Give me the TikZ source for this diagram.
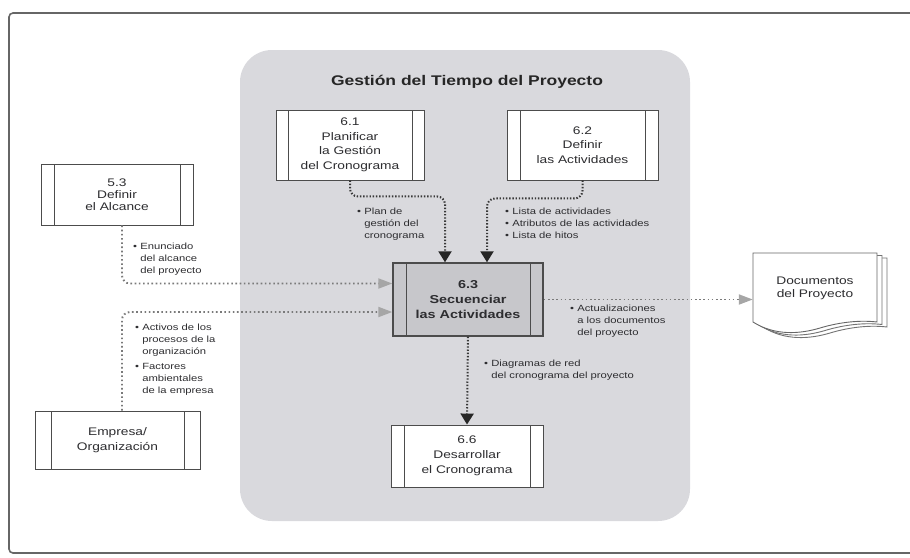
\documentclass[tikz,border=0pt]{standalone}
\usepackage{fontspec}
\setmainfont{Liberation Sans}[FakeStretch=1.25]
\usetikzlibrary{arrows.meta}
\definecolor{panel}{RGB}{217,217,221}
\definecolor{hub}{RGB}{199,199,203}
\definecolor{ink}{RGB}{45,45,48}
\newcommand\lblind{\hphantom{\textbullet\ }}

\begin{document}
\begin{tikzpicture}[x=1pt,y=-1pt,
  strip/.code={\def\procstrip{#1}}, strip=13pt,
  procbox/.style={draw=black!70, line width=0.9pt, fill=white, inner sep=0pt,
    align=center, text=ink, font=\fontsize{11}{14.5}\selectfont,
    path picture={\draw[black!70, line width=0.9pt]
      ([xshift=\procstrip]path picture bounding box.north west) --
      ([xshift=\procstrip]path picture bounding box.south west)
      ([xshift=-\procstrip]path picture bounding box.north east) --
      ([xshift=-\procstrip]path picture bounding box.south east);}},
  lbl/.style={anchor=north west, align=left, inner sep=0pt, text=ink,
    font=\fontsize{9}{12}\selectfont},
  darr/.style={draw=black!78, line width=2pt, dash pattern=on 1.4pt off 1.8pt,
    rounded corners=8pt, -{Triangle[width=13pt,length=11pt,color=black!85]}},
  garr/.style={draw=black!52, line width=1.9pt, dash pattern=on 1.6pt off 2.6pt,
    rounded corners=8pt, -{Triangle[width=10pt,length=14pt,color=black!35]}},
  docpage/.style={draw=black!55, line width=0.9pt, fill=white}
]
\useasboundingbox (0,0) rectangle (910,557);

% outer frame
\begin{scope}
  \clip (0,0) rectangle (910,557);
  \draw[black!60, line width=1.6pt, rounded corners=4pt] (9,13) rectangle (940,553);
\end{scope}

% process group panel
\fill[panel, rounded corners=32pt] (240,50) rectangle (690,521);
\node[font=\fontsize{14}{16}\selectfont\bfseries, text=black!85] (title) at (467,82)
  {Gestión del Tiempo del Proyecto};

% processes
\node[procbox, minimum width=148pt, minimum height=70pt, strip=12pt] (n61) at (350,145)
  {6.1\\Planificar\\la Gestión\\del Cronograma};
\node[procbox, minimum width=151pt, minimum height=70pt] (n62) at (582.5,145)
  {6.2\\Definir\\las Actividades};
\node[procbox, minimum width=152pt, minimum height=61pt, strip=13pt,
  font=\fontsize{11}{12}\selectfont] (n53) at (117,194.5)
  {5.3\\Definir\\el Alcance};
\node[procbox, minimum width=150pt, minimum height=73pt, fill=hub, line width=1.4pt,
  font=\fontsize{11.5}{15}\selectfont\bfseries] (n63) at (468,299.5)
  {6.3\\Secuenciar\\las Actividades};
\node[procbox, minimum width=165pt, minimum height=58pt, strip=16pt,
  font=\fontsize{11}{15}\selectfont] (nemp) at (117.5,440)
  {Empresa/\\Organización};
\node[procbox, minimum width=152pt, minimum height=62pt, font=\fontsize{11}{15}\selectfont] (n66) at (467,456)
  {6.6\\Desarrollar\\el Cronograma};

% stacked project documents: the pages behind, then the front page
\begin{scope}[shift={(10,5)}]
  \draw[docpage] (753,253) -- (877,253) -- (877,322)
    .. controls (860,320) and (840,322) .. (820,328)
    .. controls (800,334) and (775,336) .. (753,322) -- cycle;
\end{scope}
\begin{scope}[shift={(5,2.5)}]
  \draw[docpage] (753,253) -- (877,253) -- (877,322)
    .. controls (860,320) and (840,322) .. (820,328)
    .. controls (800,334) and (775,336) .. (753,322) -- cycle;
\end{scope}
\draw[docpage, draw=black!60] (753,253) -- (877,253) -- (877,322)
  .. controls (860,320) and (840,322) .. (820,328)
  .. controls (800,334) and (775,336) .. (753,322) -- cycle;
\node[minimum width=124pt, minimum height=69pt, inner sep=0pt, align=center, text=ink,
  font=\fontsize{11}{13}\selectfont] (doc) at (815,288.5) {Documentos\\del Proyecto};

% flows into 6.3
\draw[darr] (n61.south) -- ++(0,16) -| ([xshift=-23pt]n63.north);
\draw[darr] (n62.south) -- ++(0,18) -| ([xshift=19pt]n63.north);
\draw[garr] ([xshift=5pt]n53.south) |- ([yshift=16pt]n63.west);
\draw[garr] ([xshift=4.5pt]nemp.north) |- ([yshift=-12.5pt]n63.west);

% flows out of 6.3
\draw[garr] (n63.east) -- (n63.east -| doc.west);
\draw[darr, rounded corners=0pt] (n63.south) -- (n66.north);

% flow labels
\node[lbl] (l61) at (357,208) {\textbullet\ Plan de\\\lblind gestión del\\\lblind cronograma};
\node[lbl] (l62) at (505,208) {\textbullet\ Lista de actividades\\\textbullet\ Atributos de las actividades\\\textbullet\ Lista de hitos};
\node[lbl] (l53) at (133,243) {\textbullet\ Enunciado\\\lblind del alcance\\\lblind del proyecto};
\node[lbl] (lemp) at (135,324) {\textbullet\ Activos de los\\\lblind procesos de la\\\lblind organización\\[3pt]\textbullet\ Factores\\\lblind ambientales\\\lblind de la empresa};
\node[lbl] (ldoc) at (570,305) {\textbullet\ Actualizaciones\\\lblind a los documentos\\\lblind del proyecto};
\node[lbl] (l66) at (484,360) {\textbullet\ Diagramas de red\\\lblind del cronograma del proyecto};
\end{tikzpicture}
\end{document}
